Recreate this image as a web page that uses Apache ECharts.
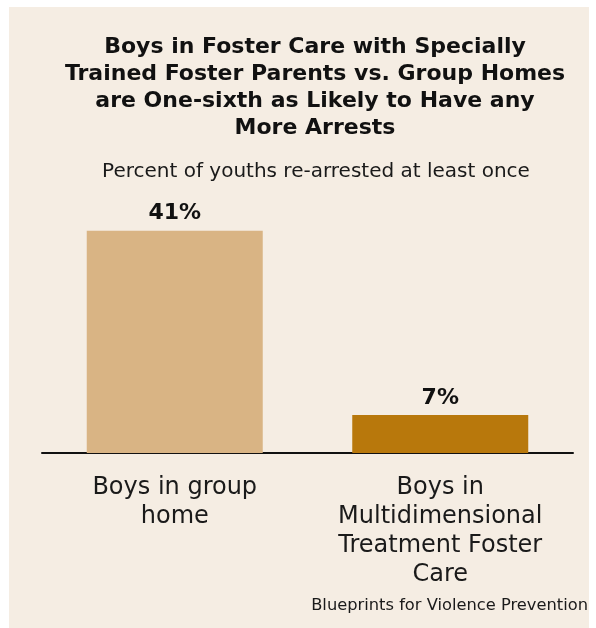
<!DOCTYPE html>
<html>
<head>
<meta charset="utf-8">
<script src="https://cdn.jsdelivr.net/npm/echarts@6/dist/echarts.min.js"></script>
<style>
html, body { margin: 0; padding: 0; background: #fff; }
#graph { width: 596px; height: 628px; }
</style>
</head>
<body>
<div id="graph"></div>
<script>
"use strict"

// chart data
const categories = ["Boys in group\nhome", "Boys in\nMultidimensional\nTreatment Foster\nCare"];
const values = [41, 7];
const barColors = ["#d9b484", "#b8780c"];

const titleText = "Boys in Foster Care with Specially\nTrained Foster Parents vs. Group Homes\nare One-sixth as Likely to Have any\nMore Arrests";
const subText = "Percent of youths re-arrested at least once";
const sourceText = "Blueprints for Violence Prevention";

const fontFam = "'DejaVu Sans', sans-serif";

const myChart = echarts.init(document.getElementById("graph"), null, { renderer: "canvas" });

const option = {
    backgroundColor: "#ffffff",
    animation: false,
    graphic: [{
        type: "rect",
        left: 9, top: 7,
        shape: { width: 580, height: 621 },
        style: { fill: "#f5ede3" },
        z: -10
    }, {
        type: "text",
        right: 8, top: 598,
        style: { text: sourceText, fill: "#1a1a1a", font: `16.3px ${fontFam}` }
    }],
    title: [{
        text: titleText,
        left: 310, top: 29,
        textAlign: "center",
        textStyle: { fontFamily: fontFam, fontWeight: "bold", fontSize: 22, lineHeight: 27, color: "#111" }
    }, {
        text: subText,
        left: 311, top: 157,
        textAlign: "center",
        textStyle: { fontFamily: fontFam, fontWeight: "normal", fontSize: 20, color: "#1a1a1a" }
    }],
    grid: { left: 42, right: 23, top: 182, bottom: 175, containLabel: false },
    xAxis: {
        type: "category",
        data: categories,
        axisLine: { lineStyle: { color: "#111", width: 2 } },
        axisTick: { show: false },
        axisLabel: { color: "#1a1a1a", fontFamily: fontFam, fontSize: 24, lineHeight: 29, margin: 20, interval: 0 }
    },
    yAxis: { type: "value", min: 0, max: 50, show: false },
    series: [{
        type: "bar",
        barWidth: 176,
        data: values.map((v, i) => ({ value: v, itemStyle: { color: barColors[i] } })),
        label: {
            show: true, position: "top", distance: 6,
            formatter: p => p.value + "%",
            fontFamily: fontFam, fontWeight: "bold", fontSize: 22, color: "#111"
        }
    }]
};
myChart.setOption(option);
</script>
</body>
</html>
